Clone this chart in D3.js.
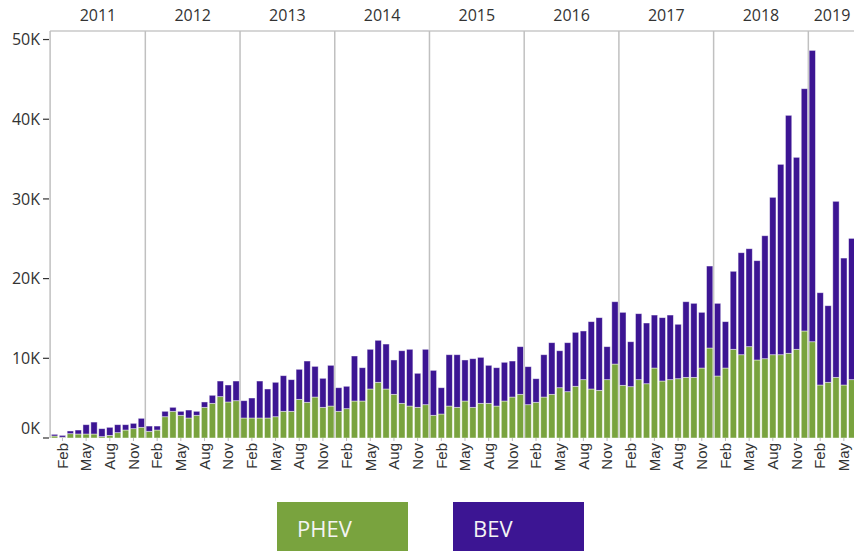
<!DOCTYPE html>
<html>
<head>
<meta charset="utf-8">
<script src="https://cdn.jsdelivr.net/npm/d3@7/dist/d3.min.js"></script>
<style>
  html, body { margin: 0; padding: 0; background: #fff; overflow: hidden; }
  svg { display: block; }
</style>
</head>
<body>
<svg id="chart" width="854" height="551"></svg>
<script>
// ---- Data (monthly, Jan 2011 – Jun 2019) ----
const years = [2011, 2012, 2013, 2014, 2015, 2016, 2017, 2018, 2019];
const monthNames = ["Jan","Feb","Mar","Apr","May","Jun","Jul","Aug","Sep","Oct","Nov","Dec"];
const tickMonths = ["Feb", "May", "Aug", "Nov"];
const yTicks = [0, 10000, 20000, 30000, 40000, 50000];
const seriesNames = ["PHEV", "BEV"];
const seriesColors = ["#79a33e", "#3c1593"];

const phev = [
  250,100,540,500,500,500,170,330,670,1000,1170,1340,
  840,1000,2670,3350,2850,2510,2850,3850,4350,5190,4520,4680,
  2510,2510,2510,2510,2670,3350,3350,4850,4480,5140,3850,4010,
  3350,3680,4640,4640,6150,6990,6150,5480,4350,4010,3850,4180,
  2850,3010,4010,3850,4640,3850,4350,4350,4010,4640,5140,5480,
  4180,4480,5140,5480,6310,5810,6490,7320,6150,5980,7320,9280,
  6610,6440,7320,6810,8780,7150,7320,7440,7610,7610,8780,11290,
  7780,8780,11130,10450,11460,9790,9950,10450,10450,10630,11130,13430,
  12080,6650,6990,7610,6650,7320
];
const bev = [
  210,230,340,500,1170,1500,1000,1010,1000,670,670,1130,
  660,500,680,500,500,1000,500,670,1010,1960,2130,2470,
  2170,2510,4640,3640,4320,4470,3970,3770,5180,3850,3640,5110,
  2960,2810,5650,4180,4980,5270,5640,4310,6600,7120,4270,6950,
  5640,3300,6440,6600,5150,6100,5770,4770,4810,4860,4520,5980,
  4770,2960,5310,6480,4640,6150,6770,6110,8450,9120,4140,7820,
  9160,5640,8280,7620,6650,7950,8110,6830,9490,9290,6990,10290,
  9120,5820,9790,12800,12290,12460,15430,19750,23890,29860,24090,30400,
  36560,11580,9610,22090,15930,17730
];

const months = phev.map((_, i) => {
  const yr = years[0] + Math.floor(i / 12);
  return { key: yr + "-" + (i % 12), year: yr, month: monthNames[i % 12], PHEV: phev[i], BEV: bev[i] };
});

const svg = d3.select("#chart");
const mLeft = 50.6, mRight = 855.7, mTop = 31, mBottom = 438;

const x = d3.scaleBand()
  .domain(months.map(d => d.key))
  .range([mLeft, mRight])
  .paddingInner(0.2)
  .paddingOuter(0.1);
const step = x.step();

const maxTotal = d3.max(months, d => d.PHEV + d.BEV);
const y = d3.scaleLinear().domain([0, maxTotal * 1.05]).range([mBottom, mTop]);

const color = d3.scaleOrdinal().domain(seriesNames).range(seriesColors);

// top frame line
svg.append("line").attr("x1", mLeft - 0.5).attr("x2", 854).attr("y1", mTop).attr("y2", mTop)
  .attr("stroke", "#c8c8c8").attr("stroke-width", 1.5);

// year separators
svg.append("g").selectAll("line")
  .data(years.slice(1))
  .join("line")
  .attr("x1", yr => x(yr + "-0") - step * 0.1)
  .attr("x2", yr => x(yr + "-0") - step * 0.1)
  .attr("y1", mTop).attr("y2", mBottom)
  .attr("stroke", "#c0c0c0").attr("stroke-width", 1.5);

// year labels
svg.append("g").selectAll("text")
  .data(years)
  .join("text")
  .attr("x", yr => {
    const ms = months.filter(d => d.year === yr);
    const x0 = x(ms[0].key) - step * 0.1;
    const x1 = x(ms[ms.length - 1].key) - step * 0.1 + step;
    return (x0 + x1) / 2;
  })
  .attr("y", 21)
  .attr("text-anchor", "middle")
  .attr("font-family", "'Open Sans', sans-serif")
  .attr("font-size", 16)
  .attr("fill", "#333")
  .text(yr => yr);

// stacked bars
const stack = d3.stack().keys(seriesNames);
const layers = stack(months);
svg.append("g").selectAll("g")
  .data(layers)
  .join("g")
  .attr("fill", d => color(d.key))
  .selectAll("rect")
  .data(d => d)
  .join("rect")
  .attr("x", d => x(d.data.key))
  .attr("width", x.bandwidth())
  .attr("y", d => y(d[1]))
  .attr("height", d => y(d[0]) - y(d[1]))
  .attr("stroke", "#ffffff")
  .attr("stroke-opacity", 0.55)
  .attr("stroke-width", 0.8);

// left axis line
svg.append("line").attr("x1", mLeft - 0.5).attr("x2", mLeft - 0.5).attr("y1", mTop).attr("y2", mBottom)
  .attr("stroke", "#c0c0c0").attr("stroke-width", 1.5);

// y ticks
const yg = svg.append("g");
yg.selectAll("line").data(yTicks).join("line")
  .attr("x1", 43).attr("x2", 49)
  .attr("y1", d => y(d)).attr("y2", d => y(d))
  .attr("stroke", "#333").attr("stroke-width", 1.2);
yg.selectAll("text").data(yTicks).join("text")
  .attr("x", 40)
  .attr("y", d => y(d) + (d === 0 ? -10 : 0))
  .attr("dy", "0.36em")
  .attr("text-anchor", "end")
  .attr("font-family", "'Open Sans', sans-serif")
  .attr("font-size", 16)
  .attr("fill", "#333")
  .text(d => d3.format("d")(d / 1000) + "K");

// x ticks & labels
const tickData = months.filter(d => tickMonths.includes(d.month));
const xg = svg.append("g");
xg.selectAll("line").data(tickData).join("line")
  .attr("x1", d => x(d.key) + x.bandwidth() / 2)
  .attr("x2", d => x(d.key) + x.bandwidth() / 2)
  .attr("y1", mBottom).attr("y2", mBottom + 3)
  .attr("stroke", "#bbb").attr("stroke-width", 1);
xg.selectAll("text").data(tickData).join("text")
  .attr("transform", d => `translate(${x(d.key) + x.bandwidth() / 2},${mBottom + 5}) rotate(-90)`)
  .attr("dy", "0.35em")
  .attr("text-anchor", "end")
  .attr("font-family", "'Liberation Sans', Arial, sans-serif")
  .attr("font-size", 15)
  .attr("fill", "#333")
  .text(d => d.month);

// legend
const legend = svg.append("g");
const legX = [277, 453];
seriesNames.forEach((name, i) => {
  legend.append("rect")
    .attr("x", legX[i]).attr("y", 502)
    .attr("width", 131).attr("height", 52)
    .attr("fill", color(name));
  legend.append("text")
    .attr("x", legX[i] + 20).attr("y", 537)
    .attr("font-family", "'Open Sans', sans-serif")
    .attr("font-size", 22)
    .attr("fill", "#f4f4f4")
    .text(name);
});
</script>
</body>
</html>
